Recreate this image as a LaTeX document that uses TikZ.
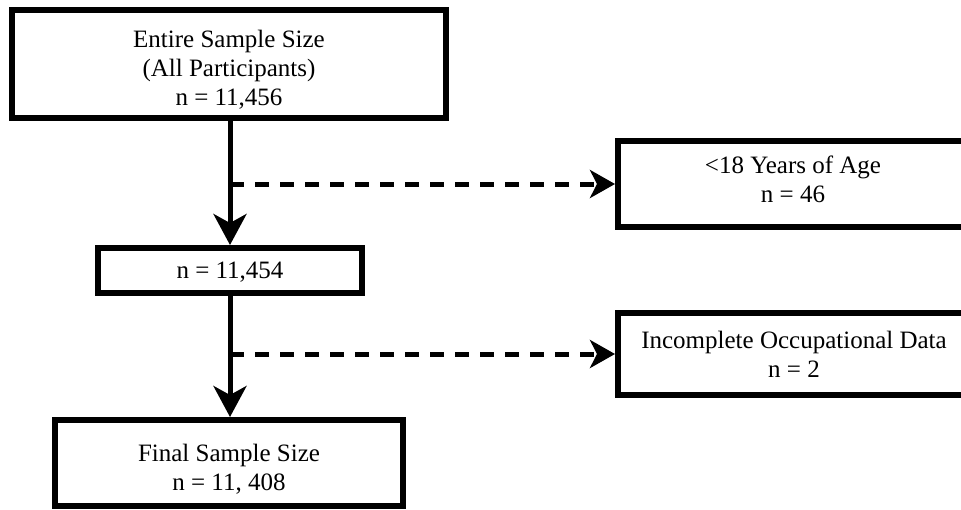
\documentclass[tikz,border=0pt]{standalone}
\usepackage{fontspec}
\setmainfont{Liberation Serif}
\usetikzlibrary{arrows.meta}
\newcommand\boxtext[2]{\raisebox{#1}[\height][\depth]{\begin{tabular}{@{}c@{}}#2\end{tabular}}}
\tikzset{
  flowbox/.style={draw=black, line width=6pt, fill=white, align=center, inner sep=0pt,
    font=\fontsize{25}{29}\selectfont},
  mainarrow/.style={line width=5pt, -{Stealth[length=31pt,width=33pt,inset=9pt]}},
  exclarrow/.style={line width=5pt, dash pattern=on 14pt off 11pt, -{Stealth[length=25pt,width=28pt,inset=7pt]}}
}
\begin{document}
\begin{tikzpicture}[x=1pt,y=-1pt]
\clip (0,0) rectangle (961,509);
\fill[white] (0,0) rectangle (961,509);
\node[flowbox, minimum width=434pt, minimum height=108pt] (b1) at (229,64)
  {\boxtext{-7pt}{Entire Sample Size\\(All Participants)\\n = 11,456}};
\node[flowbox, minimum width=264pt, minimum height=45pt] (b2) at (230,270.5)
  {\boxtext{-2pt}{n = 11,454}};
\node[flowbox, minimum width=350pt, minimum height=86pt] (b3) at (793,184)
  {\boxtext{2pt}{<18 Years of Age\\n = 46}};
\node[flowbox, minimum width=352pt, minimum height=82pt] (b4) at (794,354)
  {\boxtext{-3.5pt}{Incomplete Occupational Data\\n = 2}};
\node[flowbox, minimum width=348pt, minimum height=86pt] (b5) at (229,463)
  {\boxtext{-7pt}{Final Sample Size\\n = 11, 408}};
\draw[mainarrow] (b1.south -| b2.north) -- (b2.north);
\draw[mainarrow] (b2.south) -- (b2.south |- b5.north);
\coordinate (d1) at (b2.north |- b3.west);
\coordinate (d2) at (b2.south |- b4.west);
\draw[exclarrow] (d1) -- (b3.west);
\draw[exclarrow] (d2) -- (b4.west);
\end{tikzpicture}
\end{document}
